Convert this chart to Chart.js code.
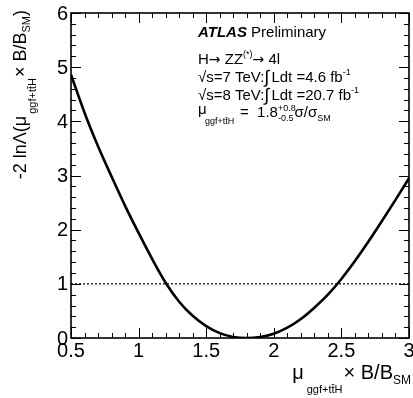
<!DOCTYPE html>
<html>
<head>
<meta charset="utf-8">
<script src="https://cdn.jsdelivr.net/npm/chart.js@4"></script>
<style>
  html, body { margin: 0; padding: 0; background: #fff; }
  canvas { display: block; }
</style>
</head>
<body>
<canvas id="nll-scan" width="413" height="398"></canvas>
<script>
// profile likelihood scan
const muValues = [0.5, 0.6, 0.7, 0.8, 0.9, 1.0, 1.1, 1.2, 1.3, 1.4, 1.5, 1.6, 1.7, 1.8,
                  1.9, 2.0, 2.1, 2.2, 2.3, 2.4, 2.5, 2.6, 2.7, 2.8, 2.9, 3.0];
const nllValues = [4.86, 4.16, 3.54, 2.98, 2.44, 1.94, 1.46, 1.02, 0.67, 0.41, 0.22, 0.09, 0.02, 0.0,
                   0.02, 0.08, 0.19, 0.35, 0.56, 0.80, 1.09, 1.42, 1.78, 2.16, 2.55, 2.95];
const oneSigmaX = [0.5, 3.0];
const oneSigmaY = [1, 1];

const xTicks = [0.5, 1, 1.5, 2, 2.5, 3];
const xTickLabels = ["0.5", "1", "1.5", "2", "2.5", "3"];
const yTicks = [0, 1, 2, 3, 4, 5, 6];
const yTickLabels = ["0", "1", "2", "3", "4", "5", "6"];

const FONT = '"Liberation Sans", Arial, Helvetica, sans-serif';
const font = (size, style, family) => `${style || ""} ${size}px ${family || FONT}`;

// draw a run of text pieces (sub/superscripts) starting at x
function drawRuns(ctx, x, y, runs) {
    let cx = x;
    for (const r of runs) {
        ctx.font = font(r.size, r.style, r.family);
        cx += r.gap || 0;
        ctx.fillText(r.text, cx, y + (r.dy || 0));
        if (!r.stack) cx += ctx.measureText(r.text).width;
    }
    return cx;
}
function runsWidth(ctx, runs) {
    let w = 0;
    for (const r of runs) {
        ctx.font = font(r.size, r.style, r.family);
        w += (r.gap || 0) + (r.stack ? 0 : ctx.measureText(r.text).width);
    }
    return w;
}

const frameAndText = {
    id: "frameAndText",
    afterDatasetsDraw(chart) {
        const { ctx, chartArea: a, scales: { x, y } } = chart;
        ctx.save();
        ctx.strokeStyle = "#000";
        ctx.fillStyle = "#000";

        // ticks, pointing inwards on all four sides
        ctx.lineWidth = 1;
        ctx.beginPath();
        for (let i = 0; i <= 25; i++) {
            const v = 0.5 + i * 0.1;
            const px = Math.round(x.getPixelForValue(v)) + 0.5;
            const len = i % 5 === 0 ? 10 : 5;
            ctx.moveTo(px, a.bottom); ctx.lineTo(px, a.bottom - len);
            ctx.moveTo(px, a.top); ctx.lineTo(px, a.top + len);
        }
        for (let i = 0; i <= 30; i++) {
            const v = i * 0.2;
            const py = Math.round(y.getPixelForValue(v)) + 0.5;
            const len = i % 5 === 0 ? 10 : 5;
            ctx.moveTo(a.left, py); ctx.lineTo(a.left + len, py);
            ctx.moveTo(a.right, py); ctx.lineTo(a.right - len, py);
        }
        ctx.stroke();

        ctx.lineWidth = 1.6;
        ctx.strokeRect(a.left, a.top, a.right - a.left, a.bottom - a.top);

        // tick labels
        ctx.font = font(20);
        ctx.textAlign = "center";
        ctx.textBaseline = "top";
        xTicks.forEach((v, i) => ctx.fillText(xTickLabels[i], x.getPixelForValue(v), a.bottom + 3));
        ctx.textAlign = "right";
        ctx.textBaseline = "middle";
        yTicks.forEach((v, i) => ctx.fillText(yTickLabels[i], a.left - 3, y.getPixelForValue(v) + 1));

        ctx.textAlign = "left";
        ctx.textBaseline = "alphabetic";

        // x axis title, right aligned
        const xTitle = [
            { text: "\u03bc", size: 20 },
            { text: "ggf+tt\u0304H", size: 11, dy: 14, gap: 3 },
            { text: "\u00d7 B/B", size: 20, gap: 1 },
            { text: "SM", size: 12, dy: 5 },
        ];
        drawRuns(ctx, 411 - runsWidth(ctx, xTitle), 379, xTitle);

        // y axis title, rotated, top aligned
        const yTitle = [
            { text: "-2 ln\u039b(\u03bc", size: 18 },
            { text: "ggf+tt\u0304H", size: 11, dy: 10, gap: 2 },
            { text: "\u00d7 B/B", size: 18, gap: 1 },
            { text: "SM", size: 11, dy: 4 },
            { text: ")", size: 18 },
        ];
        const w = runsWidth(ctx, yTitle);
        ctx.save();
        ctx.translate(26, 10 + w);
        ctx.rotate(-Math.PI / 2);
        drawRuns(ctx, 0, 0, yTitle);
        ctx.restore();

        // legend block
        const lx = 198;
        const arrowFont = '"DejaVu Sans", sans-serif';
        drawRuns(ctx, lx, 37, [
            { text: "ATLAS", size: 15, style: "italic bold" },
            { text: " Preliminary", size: 15 },
        ]);
        drawRuns(ctx, lx, 64, [
            { text: "H", size: 15 },
            { text: "\u2192", size: 14, family: arrowFont },
            { text: " ZZ", size: 15 },
            { text: "(*)", size: 9, dy: -7 },
            { text: "\u2192", size: 14, family: arrowFont },
            { text: " 4l", size: 15 },
        ]);
        drawRuns(ctx, lx, 82, [
            { text: "\u221as=7 TeV:", size: 15 },
            { text: "\u222b", size: 18, dy: 1 },
            { text: "Ldt =4.6 fb", size: 15, gap: 2 },
            { text: "-1", size: 9, dy: -7 },
        ]);
        drawRuns(ctx, lx, 100, [
            { text: "\u221as=8 TeV:", size: 15 },
            { text: "\u222b", size: 18, dy: 1 },
            { text: "Ldt =20.7 fb", size: 15, gap: 2 },
            { text: "-1", size: 9, dy: -7 },
        ]);
        drawRuns(ctx, lx, 114, [{ text: "\u03bc", size: 15 }]);
        drawRuns(ctx, lx + 7, 124, [{ text: "ggf+tt\u0304H", size: 9 }]);
        drawRuns(ctx, 240, 117, [
            { text: "=  1.8", size: 15 },
            { text: "+0.8", size: 9, dy: -6, stack: true },
            { text: "-0.5", size: 9, dy: 4 },
            { text: "\u03c3/\u03c3", size: 15, gap: 1 },
            { text: "SM", size: 9, dy: 4 },
        ]);

        ctx.restore();
    },
};

new Chart(document.getElementById("nll-scan"), {
    type: "line",
    data: {
        datasets: [
            {
                data: muValues.map((m, i) => ({ x: m, y: nllValues[i] })),
                borderColor: "#000",
                borderWidth: 2.6,
                pointRadius: 0,
                cubicInterpolationMode: "monotone",
            },
            {
                data: oneSigmaX.map((m, i) => ({ x: m, y: oneSigmaY[i] })),
                borderColor: "#000",
                borderWidth: 1.2,
                borderDash: [2, 2],
                pointRadius: 0,
            },
        ],
    },
    options: {
        responsive: false,
        animation: false,
        layout: { padding: { left: 71, top: 13, right: 4, bottom: 60 } },
        plugins: { legend: { display: false }, tooltip: { enabled: false } },
        scales: {
            x: { type: "linear", min: 0.5, max: 3, display: false },
            y: { type: "linear", min: 0, max: 6, display: false },
        },
    },
    plugins: [frameAndText],
});
</script>
</body>
</html>
